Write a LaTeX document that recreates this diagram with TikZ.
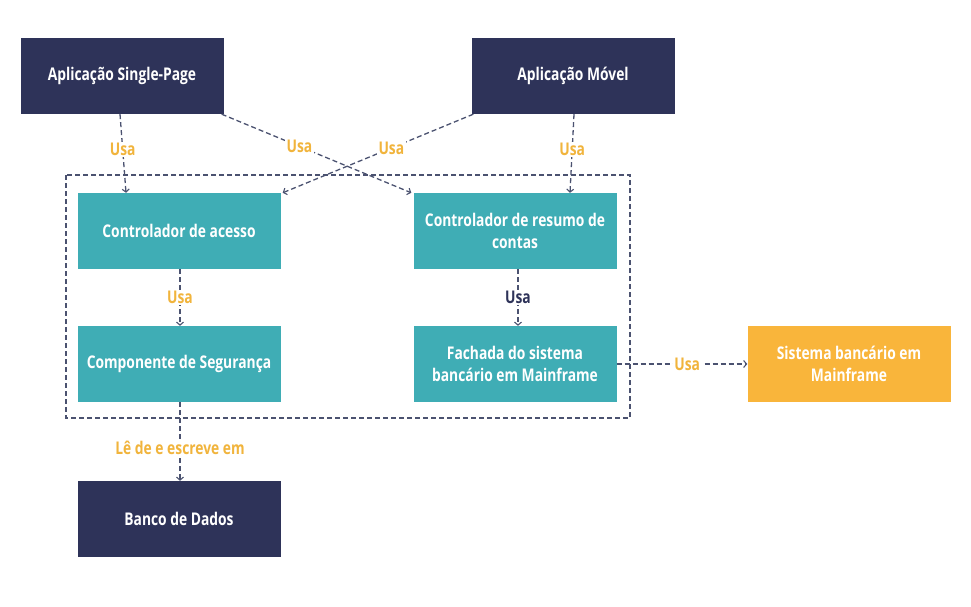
\documentclass[tikz,border=0pt]{standalone}
\usepackage{fontspec}
\setmainfont{Open Sans}[FakeStretch=0.79,BoldFont={* Bold},BoldFeatures={FakeStretch=0.79}]
\usetikzlibrary{arrows.meta}
\definecolor{navy}{HTML}{2E3359}
\definecolor{teal}{HTML}{3FADB5}
\definecolor{orng}{HTML}{F9B53B}
\definecolor{lbl}{HTML}{F1B43C}
\definecolor{lne}{HTML}{4B5270}
\begin{document}
\begin{tikzpicture}[x=1pt,y=-1pt,
  box/.style={minimum width=203pt,minimum height=76pt,align=center,text=white,font=\bfseries\fontsize{17.5}{21.5}\selectfont,inner sep=0pt},
  dark/.style={box,fill=navy},
  tl/.style={box,fill=teal},
  ext/.style={box,fill=orng},
  conn/.style={draw=lne,line width=1.3pt,dash pattern=on 5pt off 3pt,-{Straight Barb[length=3pt,width=7pt,line width=1.1pt]}},
  lab/.style={fill=white,text=lbl,font=\bfseries\fontsize{17.5}{20}\selectfont,inner sep=1.5pt}
]
\useasboundingbox (0,0) rectangle (971,607);
\draw[lne,line width=1.3pt,dash pattern=on 5pt off 3pt] (66,175) rectangle (630,418);
\node[dark] (sp) at (122,76) {Aplicação Single-Page};
\node[dark] (mo) at (573,76) {Aplicação Móvel};
\node[tl] (ca) at (179,231) {Controlador de acesso};
\node[tl] (cr) at (515,231) {Controlador de resumo de\\contas};
\node[tl] (cs) at (179,364) {Componente de Segurança};
\node[tl] (fa) at (515,364) {Fachada do sistema\\bancário em Mainframe};
\node[ext] (sb) at (849,364) {Sistema bancário em\\Mainframe};
\node[dark] (db) at (179,519) {Banco de Dados};

\draw[conn] ([xshift=-2pt]sp.south) -- node[lab,pos=0.45] {Usa} ([xshift=-53pt]ca.north);
\draw[conn] ([xshift=-2pt]sp.south east) -- node[lab,pos=0.41] {Usa} ([xshift=-2pt]cr.north west);
\draw[conn] ([xshift=2pt]mo.south west) -- node[lab,pos=0.43] {Usa} ([xshift=2pt]ca.north east);
\draw[conn] ([xshift=1pt]mo.south) -- node[lab,pos=0.45] {Usa} ([xshift=55pt]cr.north);
\draw[conn] ([xshift=1pt]ca.south) -- node[lab] {Usa} ([xshift=1pt]cs.north);
\draw[conn] ([xshift=3pt]cr.south) -- node[lab,text=navy] {Usa} ([xshift=3pt]fa.north);
\draw[conn] (fa.east) -- node[lab,pos=0.54] {Usa} (sb.west);
\draw[conn] ([xshift=1pt]cs.south) -- node[lab,pos=0.58] {Lê de e escreve em} ([xshift=1pt]db.north);
\end{tikzpicture}
\end{document}
